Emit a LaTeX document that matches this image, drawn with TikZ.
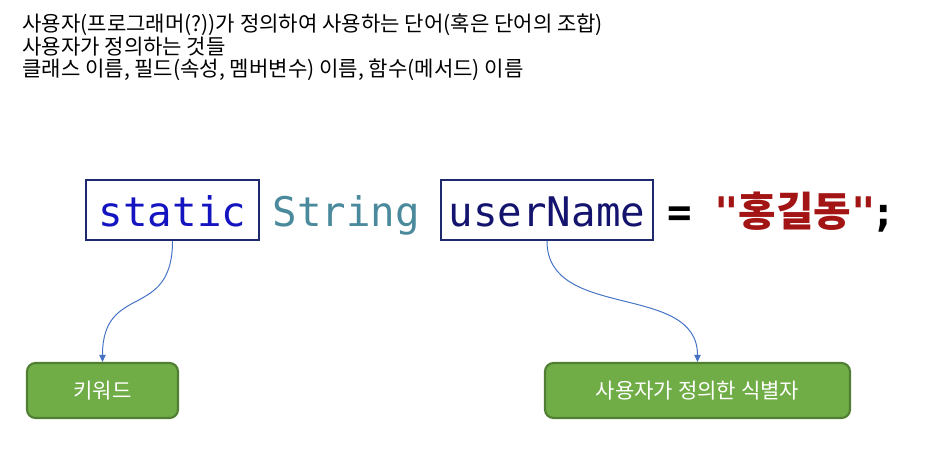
\documentclass[tikz,border=0pt]{standalone}
\usepackage{fontspec}
\usepackage{tikz}
\usetikzlibrary{arrows.meta}
\newfontfamily\krfont{Noto Sans CJK KR}
\newfontfamily\codefont{DejaVu Sans Mono}
\definecolor{hexcolor0x1f2a6e}{rgb}{0.122,0.165,0.431}
\definecolor{hexcolor0x1414c0}{rgb}{0.078,0.078,0.753}
\definecolor{hexcolor0x4a8a9c}{rgb}{0.290,0.541,0.612}
\definecolor{hexcolor0x14146e}{rgb}{0.078,0.078,0.431}
\definecolor{hexcolor0xa31515}{rgb}{0.639,0.082,0.082}
\definecolor{hexcolor0x4472c4}{rgb}{0.267,0.447,0.769}
\definecolor{hexcolor0x70ad47}{rgb}{0.439,0.678,0.278}
\definecolor{hexcolor0x507e32}{rgb}{0.314,0.494,0.196}
\definecolor{myblack}{rgb}{0.000,0.000,0.000}
\definecolor{mywhite}{rgb}{1.000,1.000,1.000}
\tikzstyle{note}=[anchor=base west,inner sep=0pt,text=myblack,font=\krfont\fontsize{15}{17}\selectfont]
\tikzstyle{code}=[inner sep=0pt,text height=28pt,text depth=4pt,font=\codefont\fontsize{29}{30}\selectfont]
\tikzstyle{namebox}=[code,draw=hexcolor0x1f2a6e,line width=1.5pt,minimum height=1.5cm]
\tikzstyle{kind}=[rounded corners=6pt,fill=hexcolor0x70ad47,draw=hexcolor0x507e32,line width=1.5pt,minimum height=1.375cm,text=mywhite,font=\krfont\fontsize{15}{17}\selectfont]
\tikzstyle{link}=[draw=hexcolor0x4472c4,line width=0.7pt,-{Triangle[length=5pt,width=4.5pt]}]

\begin{document}
\begin{tikzpicture}
	\useasboundingbox (0,0) rectangle (23.4,-11.425);
	% notes
	\node [style=note] (n1) at (0.55,-0.78) {사용자(프로그래머(?))가 정의하여 사용하는 단어(혹은 단어의 조합)};
	\node [style=note] (n2) at (0.55,-1.35) {사용자가 정의하는 것들};
	\node [style=note] (n3) at (0.55,-1.92) {클래스 이름, 필드(속성, 멤버변수) 이름, 함수(메서드) 이름};
	% code line
	\node [style=namebox,minimum width=4.325cm,text=hexcolor0x1414c0] (0) at (4.3125,-5.25) {static};
	\node [style=code,text=hexcolor0x4a8a9c] (1) at (8.66,-5.25) {String};
	\node [style=namebox,minimum width=5.3cm,text=hexcolor0x14146e] (2) at (13.675,-5.25) {userName};
	\node [style=code,text=myblack] (3) at (17.0,-5.25) {\bfseries =};
	\node [style=code,text=hexcolor0xa31515] (4) at (19.875,-5.25) {\bfseries "{\krfont\bfseries 홍길동}"};
	\node [style=code,text=myblack] (5) at (22.1,-5.25) {\bfseries ;};
	% kinds
	\node [style=kind,minimum width=3.775cm] (6) at (2.5625,-9.7625) {키워드};
	\node [style=kind,minimum width=7.625cm] (7) at (17.4375,-9.7625) {사용자가 정의한 식별자};

	\draw [style=link] (0.south) .. controls +(0,-2) and +(0,2) .. (6.north);
	\draw [style=link] (2.south) .. controls +(0,-2) and +(0,2) .. (7.north);
\end{tikzpicture}
\end{document}
